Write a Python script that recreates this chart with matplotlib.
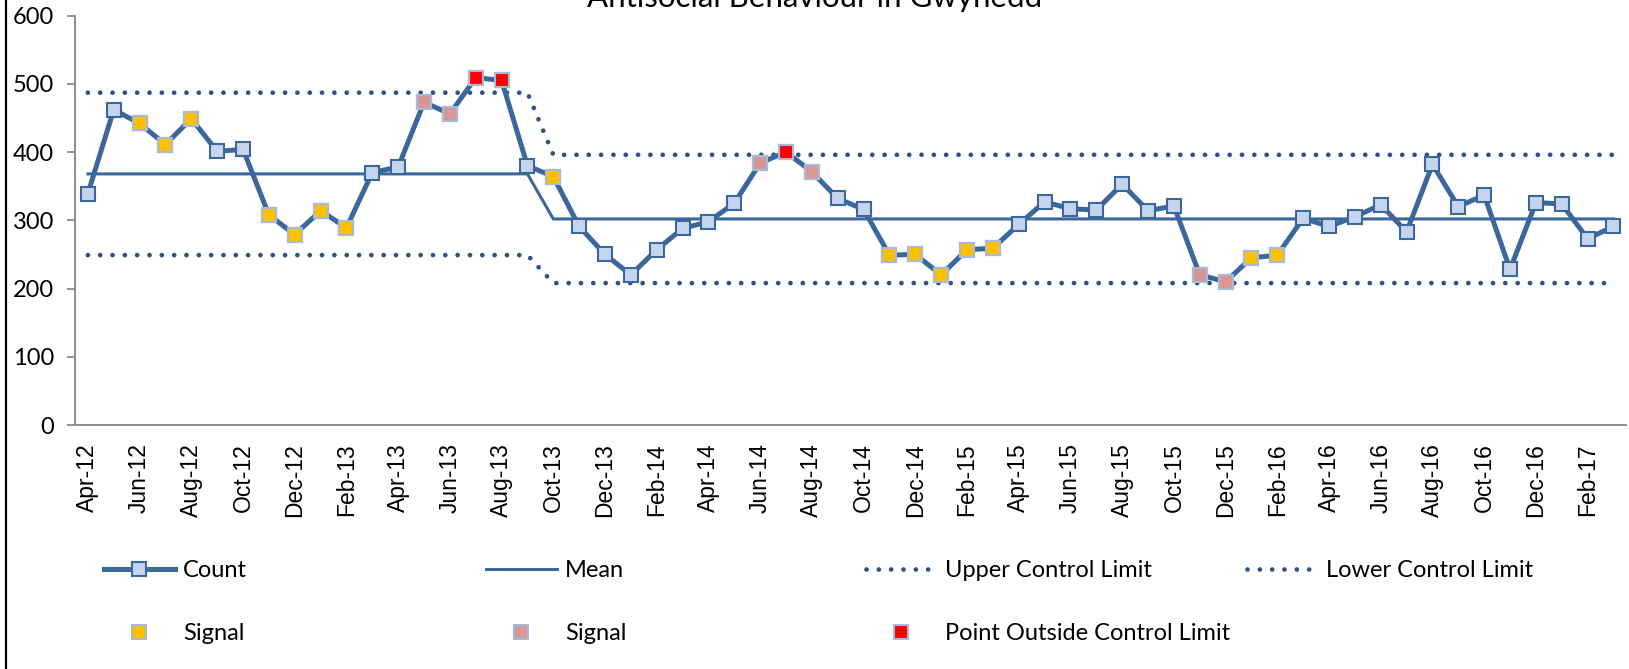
import matplotlib.pyplot as plt
from matplotlib.lines import Line2D
import numpy as np

# monthly counts, Apr-12 .. Mar-17
months = ['Apr-12', 'May-12', 'Jun-12', 'Jul-12', 'Aug-12', 'Sep-12', 'Oct-12', 'Nov-12', 'Dec-12',
          'Jan-13', 'Feb-13', 'Mar-13', 'Apr-13', 'May-13', 'Jun-13', 'Jul-13', 'Aug-13', 'Sep-13',
          'Oct-13', 'Nov-13', 'Dec-13', 'Jan-14', 'Feb-14', 'Mar-14', 'Apr-14', 'May-14', 'Jun-14',
          'Jul-14', 'Aug-14', 'Sep-14', 'Oct-14', 'Nov-14', 'Dec-14', 'Jan-15', 'Feb-15', 'Mar-15',
          'Apr-15', 'May-15', 'Jun-15', 'Jul-15', 'Aug-15', 'Sep-15', 'Oct-15', 'Nov-15', 'Dec-15',
          'Jan-16', 'Feb-16', 'Mar-16', 'Apr-16', 'May-16', 'Jun-16', 'Jul-16', 'Aug-16', 'Sep-16',
          'Oct-16', 'Nov-16', 'Dec-16', 'Jan-17', 'Feb-17', 'Mar-17']
count = [339, 462, 442, 411, 449, 401, 404, 308, 279, 314, 289, 370, 378, 473, 456, 509, 505, 380,
         364, 291, 250, 220, 257, 288, 298, 325, 384, 400, 371, 332, 316, 249, 250, 220, 257, 259,
         294, 327, 317, 315, 353, 314, 321, 220, 210, 245, 249, 303, 291, 305, 323, 283, 382, 320,
         337, 228, 326, 324, 273, 291]

# phase values: first 18 months, then the rest
phase1_len = 18
mean_vals = [368, 302]
ucl_vals = [487, 396]
lcl_vals = [249, 208]

# signal point indices
signal_amber = [2, 3, 4, 7, 8, 9, 10, 18, 31, 32, 33, 34, 35, 45, 46]
signal_pink = [13, 14, 26, 28, 43, 44]
outside_limit = [15, 16, 27]

n = len(count)
x = np.arange(n)
phase2_len = n - phase1_len
mean = [mean_vals[0]] * phase1_len + [mean_vals[1]] * phase2_len
ucl = [ucl_vals[0]] * phase1_len + [ucl_vals[1]] * phase2_len
lcl = [lcl_vals[0]] * phase1_len + [lcl_vals[1]] * phase2_len

def pick(idx):
    return [count[i] if i in idx else np.nan for i in range(n)]

LINE = '#3B679C'
DOT = '#2B5383'
FACE = '#C6D5EE'
EDGE_LIGHT = '#A7BAD8'

plt.rcParams['font.family'] = ['Lato', 'DejaVu Sans']

fig = plt.figure(figsize=(16.29, 6.69), dpi=100)
ax = fig.add_axes([0.046, 0.3647, 0.9524, 0.612])

dots = (0, (0.01, 2.6))
ax.plot(x, ucl, color=DOT, lw=3.4, linestyle=dots, dash_capstyle='round', zorder=2)
ax.plot(x, lcl, color=DOT, lw=3.4, linestyle=dots, dash_capstyle='round', zorder=2)
ax.plot(x, mean, color=LINE, lw=2.2, zorder=3)
ax.plot(x, count, color=LINE, lw=3.6, marker='s', ms=10, mfc=FACE, mec=LINE, mew=1.5, zorder=4)
ax.plot(x, pick(signal_amber), ls='none', marker='s', ms=10, mfc='#FFC000', mec=EDGE_LIGHT, mew=1.5, zorder=5)
ax.plot(x, pick(signal_pink), ls='none', marker='s', ms=10, mfc='#D99694', mec=EDGE_LIGHT, mew=1.5, zorder=5)
ax.plot(x, pick(outside_limit), ls='none', marker='s', ms=10, mfc='#FF0000', mec=EDGE_LIGHT, mew=1.5, zorder=5)

ax.set_xlim(-0.5, n - 0.5)
ax.set_ylim(0, 600)
ax.set_yticks(range(0, 601, 100))
ax.set_xticks(x[::2])
ax.set_xticklabels(months[::2], rotation=90, fontsize=16.5, family='Liberation Sans')
ax.tick_params(axis='x', length=0, pad=13)
ax.tick_params(axis='y', length=6, width=1.3, color='#8C8C8C', pad=9, labelsize=17)
for s in ['top', 'right']:
    ax.spines[s].set_visible(False)
for s in ['left', 'bottom']:
    ax.spines[s].set_color('#8C8C8C')
    ax.spines[s].set_linewidth(1.4)

# title sits partly above the top edge, as in the cropped original
fig.text(0.5, 0.9895, 'Antisocial Behaviour in Gwynedd', ha='center', va='baseline', fontsize=22.5)

# chart-area border at left edge
fig.add_artist(Line2D([0.0035, 0.0035], [0, 1], transform=fig.transFigure, color='black', lw=1.6))

# legend: four columns placed like the original
h_count = Line2D([], [], color=LINE, lw=3.6, marker='s', ms=10, mfc=FACE, mec=LINE, mew=1.5)
h_mean = Line2D([], [], color=LINE, lw=2.2)
h_dots = Line2D([], [], color=DOT, lw=3.4, linestyle=dots, dash_capstyle='round')
h_amber = Line2D([], [], ls='none', marker='s', ms=10, mfc='#FFC000', mec=EDGE_LIGHT, mew=1.5)
h_pink = Line2D([], [], ls='none', marker='s', ms=10, mfc='#D99694', mec=EDGE_LIGHT, mew=1.5)
h_red = Line2D([], [], ls='none', marker='s', ms=10, mfc='#FF0000', mec=EDGE_LIGHT, mew=1.5)

columns = [
    (104, [h_count, h_amber], ['Count', 'Signal']),
    (486, [h_mean, h_pink], ['Mean', 'Signal']),
    (866, [h_dots, h_red], ['Upper Control Limit', 'Point Outside Control Limit']),
    (1247, [h_dots], ['Lower Control Limit']),
]
for xpix, hs, labs in columns:
    fig.legend(hs, labs, loc='upper left', bbox_to_anchor=(xpix / 1629, 1 - 560 / 669),
               frameon=False, fontsize=17, handlelength=3.0, handletextpad=0.35,
               labelspacing=1.77, borderpad=0, borderaxespad=0)

fig.savefig('out.png', dpi=100)
